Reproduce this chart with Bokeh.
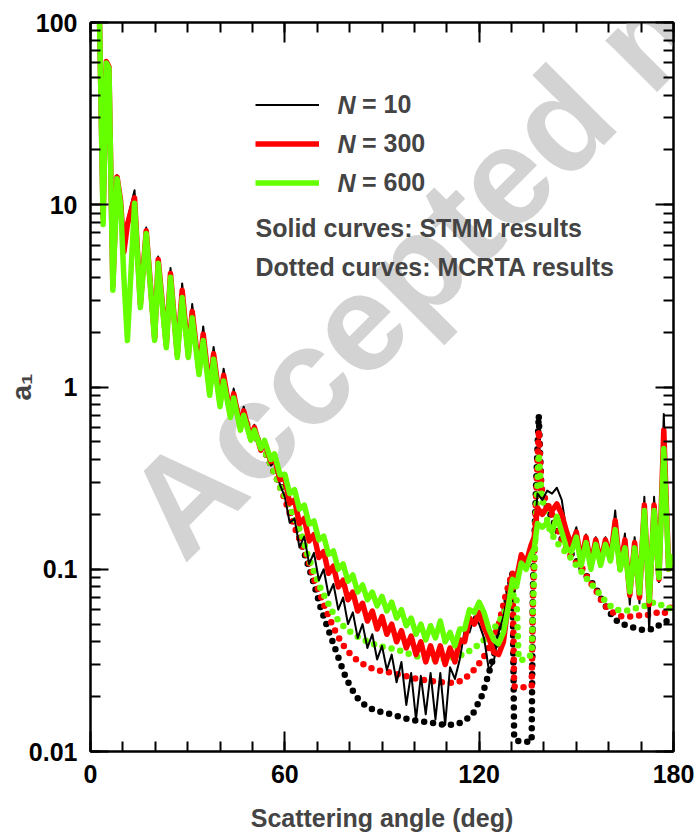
import math
from bokeh.plotting import figure
from bokeh.models import (Range1d, LinearAxis, LogAxis, SingleIntervalTicker, LogTicker,
                          Label, Legend, LegendItem, CustomJSTickFormatter, ColumnDataSource)
from bokeh.embed import file_html
from bokeh.resources import INLINE

# ---------------- data ----------------
solid_angle = [2.8, 3.9, 4.9, 5.7, 6.9, 8.2, 9.3, 10.3, 11.4, 13.6, 15.4, 17.2, 19.8, 20.9, 23.4,
               24.7, 26.8, 28.3, 30.2, 31.4, 33.5, 34.8, 36.8, 38.0, 40.0, 41.1, 43.2, 44.2, 46.3,
               47.3, 49.5, 50.6, 52.6, 53.7, 55.7, 56.8, 58.5,
               60.0, 61.5, 63.0, 64.5, 66.0, 67.5, 69.0, 70.5, 72.0, 73.5, 75.0, 76.5, 78.0, 79.5,
               81.0, 82.5, 84.0, 85.5, 87.0, 88.5, 90.0, 91.5, 93.0, 94.5, 96.0, 97.5, 99.0, 100.5,
               102.0, 103.5, 105.0, 106.5, 108.0, 109.5, 111.0, 112.5, 114.0, 115.5, 117.0, 118.5, 120.0,
               121.5, 123.0, 124.5, 126.0, 127.5, 129.0, 130.3, 131.5, 133.0, 134.5, 136.0, 137.0,
               138.0, 139.5, 141.0, 142.5, 144.0, 145.5, 147.0, 148.5, 150.0, 151.5, 153.0, 154.5,
               156.0, 157.5, 159.0, 160.5, 162.0, 163.5, 165.0, 166.5, 168.0, 169.5, 171.0, 172.5,
               174.0, 175.5, 177.0, 178.5, 180.0]

stmm_n10 = [100, 9, 62, 58, 3.8, 14.5, 11, 7, 8.3, 12, 3.0, 7.5, 1.95, 5.2, 1.75, 4.5, 1.55, 3.7,
            1.55, 2.85, 1.28, 2.15, 1.0, 1.66, 0.86, 1.26, 0.72, 0.98, 0.62, 0.78, 0.53, 0.62, 0.45,
            0.5, 0.37, 0.39, 0.29,
            0.25, 0.18, 0.19, 0.132, 0.151, 0.107, 0.123, 0.087, 0.1, 0.072, 0.083, 0.06, 0.07, 0.05,
            0.058, 0.042, 0.05, 0.037, 0.044, 0.032, 0.038, 0.028, 0.034, 0.024, 0.031, 0.018, 0.027,
            0.015, 0.026, 0.016, 0.027, 0.015, 0.027, 0.014, 0.029, 0.025, 0.032, 0.046, 0.045, 0.055,
            0.05,
            0.042, 0.028, 0.031, 0.045, 0.055, 0.075, 0.095, 0.085, 0.12, 0.1, 0.126, 0.15, 0.26, 0.24,
            0.27, 0.26, 0.28, 0.24, 0.16, 0.14, 0.17, 0.12, 0.155, 0.11, 0.15, 0.11, 0.15, 0.115, 0.21,
            0.1, 0.157, 0.064, 0.15, 0.065, 0.25, 0.046, 0.25, 0.085, 0.71, 0.1, 0.115]

stmm_n300 = [100, 8.5, 61, 57, 3.6, 14.2, 10.5, 5.5, 7.8, 10.9, 2.85, 7.2, 1.85, 5.0, 1.7, 4.2, 1.5,
             3.4, 1.5, 2.6, 1.22, 1.95, 0.95, 1.52, 0.82, 1.16, 0.7, 0.92, 0.6, 0.74, 0.52, 0.6, 0.45,
             0.5, 0.39, 0.41, 0.31,
             0.315, 0.23, 0.24, 0.178, 0.19, 0.143, 0.155, 0.116, 0.125, 0.095, 0.104, 0.08, 0.087,
             0.068, 0.075, 0.059, 0.065, 0.052, 0.059, 0.047, 0.055, 0.044, 0.05, 0.04, 0.046, 0.037,
             0.043, 0.034, 0.04, 0.031, 0.038, 0.031, 0.038, 0.03, 0.037, 0.031, 0.041, 0.04, 0.054,
             0.05, 0.058,
             0.048, 0.042, 0.035, 0.034, 0.04, 0.065, 0.095, 0.088, 0.12, 0.108, 0.135, 0.15, 0.217,
             0.2, 0.22, 0.21, 0.228, 0.2, 0.16, 0.135, 0.16, 0.11, 0.15, 0.105, 0.145, 0.108, 0.145,
             0.113, 0.185, 0.1, 0.145, 0.072, 0.14, 0.07, 0.225, 0.064, 0.225, 0.088, 0.58, 0.1, 0.12]

stmm_n600 = [100, 7.8, 60, 56, 3.4, 13.9, 10, 4.0, 1.8, 10.2, 2.73, 6.95, 1.8, 4.77, 1.64, 4.0, 1.45,
             3.1, 1.45, 2.4, 1.17, 1.8, 0.9, 1.42, 0.78, 1.08, 0.68, 0.87, 0.58, 0.7, 0.51, 0.58, 0.46,
             0.51, 0.4, 0.43, 0.33,
             0.332, 0.26, 0.273, 0.214, 0.225, 0.177, 0.184, 0.145, 0.152, 0.121, 0.126, 0.1, 0.107,
             0.086, 0.093, 0.075, 0.082, 0.068, 0.075, 0.063, 0.071, 0.059, 0.066, 0.054, 0.06, 0.049,
             0.054, 0.044, 0.05, 0.041, 0.049, 0.042, 0.052, 0.04, 0.045, 0.038, 0.047, 0.047, 0.06,
             0.058, 0.066,
             0.058, 0.047, 0.041, 0.039, 0.045, 0.062, 0.088, 0.08, 0.108, 0.1, 0.12, 0.13, 0.178, 0.17,
             0.18, 0.16, 0.195, 0.16, 0.13, 0.125, 0.15, 0.105, 0.14, 0.1, 0.137, 0.105, 0.137, 0.111,
             0.165, 0.099, 0.131, 0.075, 0.131, 0.074, 0.21, 0.067, 0.21, 0.09, 0.46, 0.1, 0.12]

dot_angle = [45, 50, 53, 55, 57, 59, 61, 63, 65, 67, 69, 71, 73, 75, 77, 79, 82, 85, 88, 91, 94, 97,
             100, 104, 108, 112, 115, 118, 121, 124, 126, 128, 129.5, 130.3, 130.8, 131.5, 132.2,
             134, 136.2, 136.6, 137.6, 138.4, 139.2, 140.5, 142, 144, 146, 148, 150, 152, 154, 156,
             158, 160, 162, 164, 166, 168, 170, 172, 174, 176, 178, 180]

mcrta_n10 = [0.75, 0.57, 0.47, 0.4, 0.33, 0.28, 0.23, 0.18, 0.14, 0.108, 0.083, 0.062, 0.049, 0.039,
             0.031, 0.025, 0.02, 0.0178, 0.0167, 0.0163, 0.0158, 0.0152, 0.0148, 0.0145, 0.0141,
             0.014, 0.0145, 0.016, 0.0205, 0.031, 0.043, 0.061, 0.082, 0.095, 0.0118, 0.0115, 0.0114,
             0.0113, 0.0113, 0.08, 0.3, 0.7, 0.27, 0.23, 0.2, 0.165, 0.14, 0.125, 0.112, 0.098, 0.088,
             0.079, 0.067, 0.059, 0.053, 0.05, 0.049, 0.0475, 0.0466, 0.0466, 0.047, 0.05, 0.052, 0.052]

mcrta_n300 = [0.75, 0.57, 0.47, 0.4, 0.33, 0.27, 0.215, 0.17, 0.14, 0.115, 0.088, 0.072, 0.058, 0.048,
              0.041, 0.036, 0.032, 0.0295, 0.028, 0.0275, 0.0268, 0.026, 0.0252, 0.0245, 0.024,
              0.0238, 0.0246, 0.0275, 0.032, 0.04, 0.049, 0.07, 0.087, 0.093, 0.0228, 0.0226, 0.0225,
              0.0225, 0.0228, 0.07, 0.25, 0.58, 0.28, 0.24, 0.21, 0.17, 0.14, 0.12, 0.108, 0.1, 0.086,
              0.077, 0.066, 0.06, 0.057, 0.055, 0.055, 0.055, 0.056, 0.056, 0.057, 0.059, 0.057, 0.066]

mcrta_n600 = [0.75, 0.57, 0.47, 0.4, 0.33, 0.27, 0.235, 0.19, 0.16, 0.12, 0.097, 0.079, 0.067, 0.057,
              0.051, 0.047, 0.043, 0.0405, 0.0385, 0.0372, 0.0365, 0.035, 0.0335, 0.032, 0.032,
              0.0328, 0.034, 0.0365, 0.04, 0.046, 0.051, 0.059, 0.066, 0.07, 0.073, 0.072, 0.032,
              0.0318, 0.034, 0.06, 0.2, 0.43, 0.26, 0.2, 0.16, 0.14, 0.128, 0.117, 0.105, 0.095, 0.085,
              0.078, 0.07, 0.064, 0.06, 0.0594, 0.0594, 0.061, 0.062, 0.0635, 0.066, 0.064, 0.061, 0.061]

legend_labels = ["= 10", "= 300", "= 600"]
x_ticks_interval = 60

# ---------------- figure ----------------
FONT = "Liberation Sans"
FS = "25px"
BLACK, RED, GREEN = "#000000", "#ff0000", "#66ff00"

p = figure(width=700, height=834, output_backend="svg", toolbar_location=None,
           x_range=Range1d(0, 180), y_range=Range1d(0.01, 100), y_axis_type="log",
           min_border_left=90, min_border_right=27, min_border_top=22, min_border_bottom=83,
           background_fill_color="white", border_fill_color="white")
p.outline_line_color = "black"
p.outline_line_width = 2
p.xgrid.visible = False
p.ygrid.visible = False


def style_axis(ax, major_in, labels=True):
    ax.axis_line_width = 2
    ax.axis_line_color = "black"
    ax.major_tick_in = major_in
    ax.major_tick_out = 0
    ax.minor_tick_in = 10
    ax.minor_tick_out = 0
    ax.major_tick_line_width = 2
    ax.minor_tick_line_width = 2
    ax.major_label_text_font = FONT
    ax.major_label_text_font_size = FS
    ax.major_label_text_font_style = "bold"
    ax.major_label_text_color = "black"
    if not labels:
        ax.major_label_text_font_size = "0px"
        ax.major_label_text_color = None
        ax.major_label_standoff = 0


xb = p.xaxis[0]
xb.ticker = SingleIntervalTicker(interval=x_ticks_interval, num_minor_ticks=6)
style_axis(xb, 20)
xb.major_label_standoff = 13
xb.axis_label = "Scattering angle (deg)"
xb.axis_label_text_font = FONT
xb.axis_label_text_font_size = FS
xb.axis_label_text_font_style = "bold"
xb.axis_label_standoff = 18

yl = p.yaxis[0]
yl.ticker = LogTicker(num_minor_ticks=10)
yl.formatter = CustomJSTickFormatter(code="return parseFloat(tick.toPrecision(3)).toString();")
style_axis(yl, 18)
yl.major_label_standoff = 13
yl.axis_label = "a\u2081"
yl.axis_label_text_font = FONT
yl.axis_label_text_font_size = "28px"
yl.axis_label_text_font_style = "bold"
yl.axis_label_standoff = -11

xt = LinearAxis(ticker=SingleIntervalTicker(interval=x_ticks_interval, num_minor_ticks=6))
style_axis(xt, 20, labels=False)
p.add_layout(xt, "above")

yr = LogAxis(ticker=LogTicker(num_minor_ticks=10))
style_axis(yr, 18, labels=False)
p.add_layout(yr, "right")

# watermark
p.add_layout(Label(x=114, y=166, x_units="screen", y_units="screen", text="Accepted manuscript",
                   angle=45, angle_units="deg", text_font=FONT, text_font_size="138px",
                   text_font_style="bold", text_color="#d3d3d3", level="underlay"))

# ---------------- curves ----------------
src_s = ColumnDataSource(dict(angle=solid_angle, n10=stmm_n10, n300=stmm_n300, n600=stmm_n600))
src_d = ColumnDataSource(dict(angle=dot_angle, n10=mcrta_n10, n300=mcrta_n300, n600=mcrta_n600))

for col, c in (("n10", BLACK), ("n300", RED), ("n600", GREEN)):
    p.line("angle", col, source=src_d, line_color=c, line_width=6.5, line_dash="0 9",
           line_cap="round")

rb = p.line("angle", "n10", source=src_s, line_color=BLACK, line_width=2, line_join="round")
rr = p.line("angle", "n300", source=src_s, line_color=RED, line_width=5.5, line_join="round")
rg = p.line("angle", "n600", source=src_s, line_color=GREEN, line_width=5.5, line_join="round")

legend = Legend(items=[LegendItem(label=legend_labels[0], renderers=[rb]),
                       LegendItem(label=legend_labels[1], renderers=[rr]),
                       LegendItem(label=legend_labels[2], renderers=[rg])],
                location=(165, 549), orientation="vertical", glyph_width=64, glyph_height=39,
                label_height=39, spacing=0, padding=0, margin=0, label_standoff=43,
                label_text_font=FONT, label_text_font_size=FS, label_text_font_style="bold",
                border_line_color=None, background_fill_alpha=0)
p.add_layout(legend)

for yy in (647, 608, 569):
    p.add_layout(Label(x=247, y=yy, x_units="screen", y_units="screen", text="N",
                       text_font=FONT, text_font_size=FS, text_font_style="bold italic",
                       text_baseline="middle"))

p.add_layout(Label(x=165, y=510, x_units="screen", y_units="screen",
                   text="Solid curves: STMM results", text_font=FONT, text_font_size=FS,
                   text_font_style="bold"))
p.add_layout(Label(x=165, y=471, x_units="screen", y_units="screen",
                   text="Dotted curves: MCRTA results", text_font=FONT, text_font_size=FS,
                   text_font_style="bold"))

open("out.html", "w").write(file_html(p, INLINE))
